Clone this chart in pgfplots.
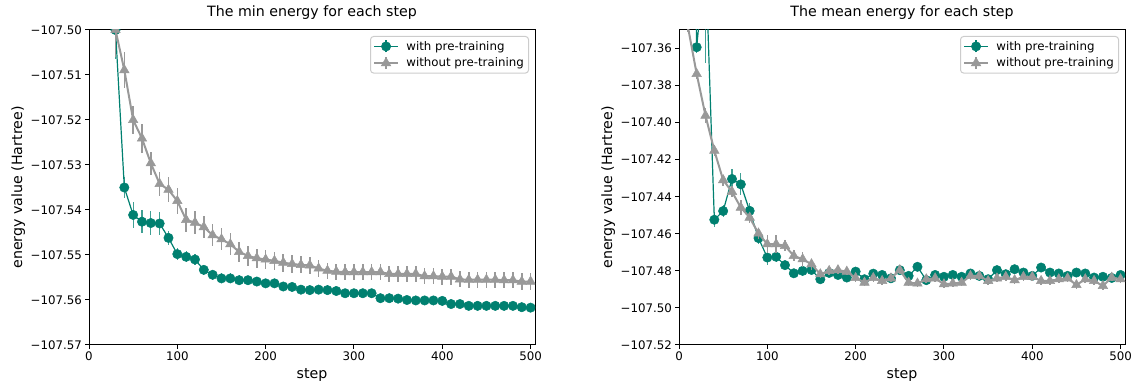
\documentclass[border=0pt]{standalone}
\usepackage{fontspec}
\setmainfont{DejaVu Sans}
\usepackage{pgfplots}
\pgfplotsset{compat=1.18}
\usepackage{pgfplotstable}
\definecolor{tealc}{RGB}{0,128,112}
\definecolor{grayc}{RGB}{153,153,153}
\definecolor{legframe}{RGB}{204,204,204}

\pgfplotstableread{
x y e
10 -107.420 0.010
20 -107.480 0.008
30 -107.5000 0.0065
40 -107.5350 0.0023
50 -107.5411 0.0030
60 -107.5426 0.0026
70 -107.5429 0.0026
80 -107.5430 0.0025
90 -107.5462 0.0015
100 -107.5498 0.0013
110 -107.5504 0.0012
120 -107.5510 0.0012
130 -107.5533 0.0011
140 -107.5544 0.0011
150 -107.5552 0.0011
160 -107.5552 0.0011
170 -107.5556 0.0011
180 -107.5556 0.0010
190 -107.5559 0.0010
200 -107.5563 0.0010
210 -107.5563 0.0009
220 -107.5570 0.0009
230 -107.5571 0.0008
240 -107.5577 0.0007
250 -107.5578 0.0007
260 -107.5577 0.0006
270 -107.5578 0.0006
280 -107.5580 0.0005
290 -107.5585 0.0005
300 -107.5585 0.0004
310 -107.5585 0.0004
320 -107.5585 0.0003
330 -107.5596 0.0003
340 -107.5596 0.0002
350 -107.5597 0.0002
360 -107.5600 0.0002
370 -107.5601 0.0002
380 -107.5601 0.0002
390 -107.5601 0.0002
400 -107.5602 0.0002
410 -107.5609 0.0002
420 -107.5609 0.0002
430 -107.5613 0.0002
440 -107.5613 0.0002
450 -107.5613 0.0002
460 -107.5613 0.0002
470 -107.5613 0.0002
480 -107.5613 0.0002
490 -107.5616 0.0002
500 -107.5617 0.0002
}\minwith

\pgfplotstableread{
x y e
10 -107.400 0.010
20 -107.460 0.008
30 -107.5000 0.0060
40 -107.5089 0.0039
50 -107.5200 0.0031
60 -107.5241 0.0033
70 -107.5296 0.0026
80 -107.5342 0.0026
90 -107.5355 0.0028
100 -107.5380 0.0028
110 -107.5422 0.0026
120 -107.5428 0.0026
130 -107.5438 0.0025
140 -107.5456 0.0025
150 -107.5465 0.0024
160 -107.5476 0.0024
170 -107.5493 0.0022
180 -107.5502 0.0022
190 -107.5507 0.0021
200 -107.5510 0.0021
210 -107.5513 0.0020
220 -107.5517 0.0020
230 -107.5520 0.0020
240 -107.5522 0.0019
250 -107.5523 0.0019
260 -107.5530 0.0019
270 -107.5535 0.0018
280 -107.5537 0.0018
290 -107.5538 0.0018
300 -107.5538 0.0018
310 -107.5538 0.0018
320 -107.5538 0.0018
330 -107.5538 0.0018
340 -107.5542 0.0018
350 -107.5542 0.0018
360 -107.5542 0.0018
370 -107.5542 0.0018
380 -107.5547 0.0018
390 -107.5547 0.0018
400 -107.5548 0.0018
410 -107.5548 0.0018
420 -107.5554 0.0018
430 -107.5555 0.0018
440 -107.5555 0.0018
450 -107.5555 0.0018
460 -107.5555 0.0018
470 -107.5556 0.0018
480 -107.5556 0.0018
490 -107.5559 0.0018
500 -107.5559 0.0018
}\minwithout

\pgfplotstableread{
x y e
10 -107.100 0.050
20 -107.3593 0.0030
30 -107.310 0.058
40 -107.4524 0.0040
50 -107.4477 0.0030
60 -107.4304 0.0054
70 -107.4333 0.0060
80 -107.4476 0.0040
90 -107.4623 0.0030
100 -107.4728 0.0040
110 -107.4724 0.0030
120 -107.4769 0.0020
130 -107.4813 0.0020
140 -107.4800 0.0020
150 -107.4795 0.0020
160 -107.4845 0.0020
170 -107.4811 0.0015
180 -107.4822 0.0015
190 -107.4836 0.0015
200 -107.4804 0.0015
210 -107.4845 0.0015
220 -107.4815 0.0015
230 -107.4822 0.0015
240 -107.4840 0.0015
250 -107.4796 0.0015
260 -107.4827 0.0015
270 -107.4778 0.0015
280 -107.4850 0.0015
290 -107.4822 0.0015
300 -107.4832 0.0015
310 -107.4822 0.0015
320 -107.4832 0.0015
330 -107.4814 0.0015
340 -107.4827 0.0015
350 -107.4845 0.0015
360 -107.4796 0.0015
370 -107.4818 0.0015
380 -107.4791 0.0015
390 -107.4809 0.0015
400 -107.4827 0.0015
410 -107.4782 0.0015
420 -107.4809 0.0015
430 -107.4814 0.0015
440 -107.4827 0.0015
450 -107.4809 0.0015
460 -107.4814 0.0015
470 -107.4836 0.0015
480 -107.4832 0.0015
490 -107.4838 0.0015
500 -107.4822 0.0015
}\meanwith

\pgfplotstableread{
x y e
10 -107.348 0.003
20 -107.3737 0.003
30 -107.3962 0.004
40 -107.4151 0.003
50 -107.4310 0.003
60 -107.4373 0.003
70 -107.4458 0.004
80 -107.4512 0.003
90 -107.4598 0.003
100 -107.4656 0.005
110 -107.4656 0.005
120 -107.4665 0.003
130 -107.4719 0.003
140 -107.4737 0.004
150 -107.4764 0.003
160 -107.4818 0.002
170 -107.4800 0.002
180 -107.4796 0.002
190 -107.4804 0.002
200 -107.4838 0.002
210 -107.4863 0.002
220 -107.4838 0.002
230 -107.4854 0.002
240 -107.4840 0.002
250 -107.4796 0.002
260 -107.4863 0.002
270 -107.4868 0.002
280 -107.4845 0.002
290 -107.4840 0.002
300 -107.4872 0.002
310 -107.4868 0.002
320 -107.4863 0.002
330 -107.4827 0.002
340 -107.4827 0.002
350 -107.4854 0.002
360 -107.4840 0.002
370 -107.4832 0.002
380 -107.4850 0.002
390 -107.4832 0.002
400 -107.4832 0.002
410 -107.4854 0.002
420 -107.4854 0.002
430 -107.4845 0.002
440 -107.4840 0.002
450 -107.4876 0.002
460 -107.4845 0.002
470 -107.4854 0.002
480 -107.4881 0.002
490 -107.4836 0.002
500 -107.4845 0.002
}\meanwithout

\pgfplotsset{
  common/.style={
    anchor=south west, width=446pt, height=315pt, scale only axis,
    xmin=0, xmax=505,
    xtick={0,100,200,300,400,500},
    xticklabels={0,100,200,300,400,500},
    xtick pos=bottom, ytick pos=left,
    tick align=outside, major tick length=4pt,
    tick style={black, line width=1pt},
    axis line style={black, line width=1pt},
    minor tick num=0,
    clip marker paths=true,
    tick label style={font=\fontsize{11.8pt}{14pt}\selectfont},
    xticklabel style={inner sep=0pt, anchor=north, yshift=-3pt},
    yticklabel style={inner sep=0pt, anchor=east, xshift=-3pt},
    title style={font=\fontsize{14.2pt}{17pt}\selectfont, at={(axis description cs:0.5,1)}, anchor=base, yshift=7pt},
    xlabel style={font=\fontsize{14.2pt}{17pt}\selectfont, at={(axis description cs:0.5,0)}, anchor=base, yshift=-34pt},
    ylabel style={font=\fontsize{14.2pt}{17pt}\selectfont, at={(axis description cs:-0.150,0.5)}, anchor=base},
    xlabel={step},
    ylabel={energy value (Hartree)},
    legend style={at={(axis description cs:1,1)}, anchor=north east, xshift=-6pt, yshift=-6pt,
      draw=legframe, line width=1pt, rounded corners=3pt, fill=white,
      font=\fontsize{11.8pt}{14pt}\selectfont, inner sep=2.7pt,
      nodes={inner sep=2pt}, row sep=2.2pt, /tikz/column sep=5.5pt},
    legend cell align=left,
    legend image code/.code={
      \draw[##1, mark=none, solid] (11.8pt,-6pt) -- (11.8pt,6pt);
      \draw[mark repeat=2, mark phase=2, ##1] plot coordinates {(0pt,0pt) (11.8pt,0pt) (23.6pt,0pt)};
    },
  },
  greenplot/.style={color=tealc, line width=1.2pt, mark=*, mark size=4.7pt,
    mark options={solid, fill=tealc, draw=tealc, line width=0.5pt},
    error bars/.cd, y dir=both, y explicit, error mark=none,
    error bar style={color=tealc, opacity=0.75, line width=1.2pt}},
  grayplot/.style={color=grayc, line width=2pt, mark=triangle*, mark size=5.5pt,
    mark options={solid, fill=grayc, draw=grayc, line width=0.5pt},
    error bars/.cd, y dir=both, y explicit, error mark=none,
    error bar style={color=grayc, line width=1.6pt}},
}

\begin{document}
\begin{tikzpicture}
\path[use as bounding box] (0,0) rectangle (1132pt,382pt);
\begin{axis}[common, at={(89pt,37pt)},
  ymin=-107.57, ymax=-107.50,
  ytick={-107.57,-107.56,-107.55,-107.54,-107.53,-107.52,-107.51,-107.50},
  yticklabels={−107.57,−107.56,−107.55,−107.54,−107.53,−107.52,−107.51,−107.50},
  title={The min energy for each step}]
\addplot[greenplot] table[x=x, y=y, y error=e] {\minwith};
\addlegendentry{with pre-training}
\addplot[grayplot] table[x=x, y=y, y error=e] {\minwithout};
\addlegendentry{without pre-training}
\end{axis}
\begin{axis}[common, at={(679pt,37pt)},
  ymin=-107.52, ymax=-107.35,
  ytick={-107.52,-107.50,-107.48,-107.46,-107.44,-107.42,-107.40,-107.38,-107.36},
  yticklabels={−107.52,−107.50,−107.48,−107.46,−107.44,−107.42,−107.40,−107.38,−107.36},
  title={The mean energy for each step}]
\addplot[greenplot] table[x=x, y=y, y error=e] {\meanwith};
\addlegendentry{with pre-training}
\addplot[grayplot] table[x=x, y=y, y error=e] {\meanwithout};
\addlegendentry{without pre-training}
\end{axis}
\end{tikzpicture}
\end{document}
